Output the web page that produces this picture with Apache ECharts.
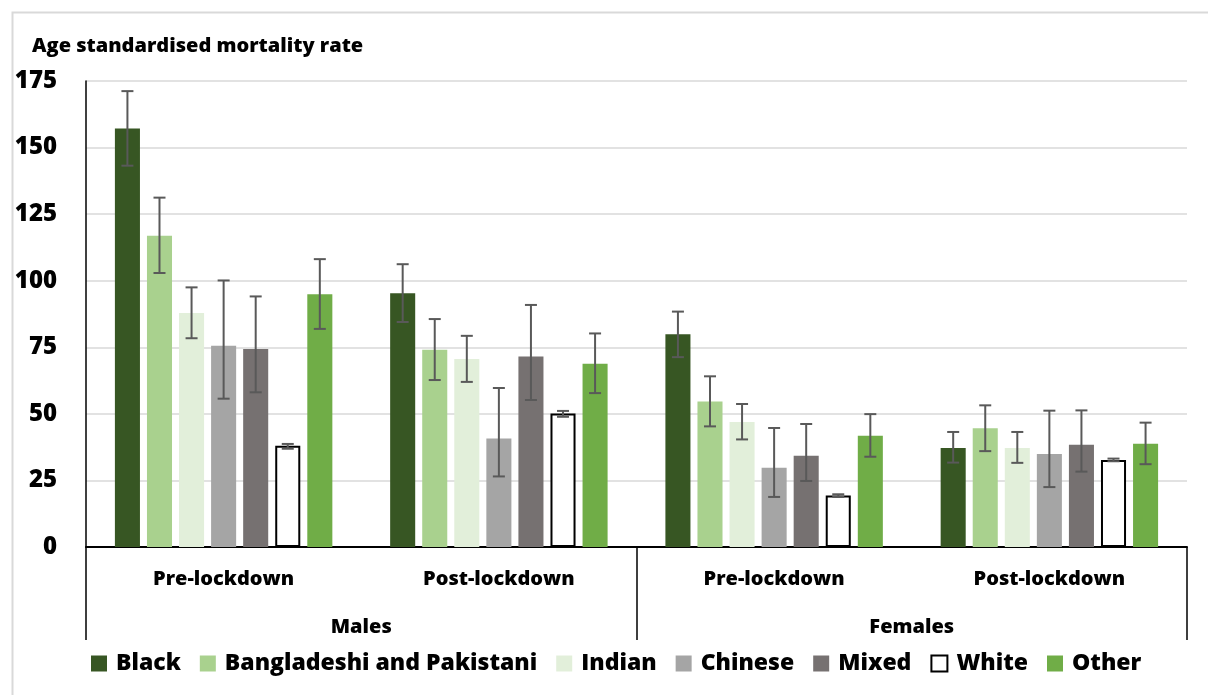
<!DOCTYPE html>
<html>
<head>
<meta charset="utf-8">
<script src="https://cdn.jsdelivr.net/npm/echarts@6/dist/echarts.min.js"></script>
<style>html,body{margin:0;padding:0;background:#fff}#c{width:1208px;height:695px}</style>
</head>
<body>
<div id="c"></div>
<script>
const periods = ['Pre-lockdown','Post-lockdown','Pre-lockdown','Post-lockdown'];
const sexes = ['Males','Females'];
const groups = ['Black','Bangladeshi and Pakistani','Indian','Chinese','Mixed','White','Other'];
const yTicks = [0,25,50,75,100,125,150,175];

const valBlack = [157.2, 95.3, 79.9, 37.2];
const valBP = [116.9, 74.1, 54.6, 44.6];
const valIndian = [87.9, 70.6, 46.9, 37.2];
const valChinese = [75.6, 40.7, 29.8, 34.9];
const valMixed = [74.4, 71.5, 34.3, 38.4];
const valWhite = [38.0, 50.1, 19.3, 32.7];
const valOther = [94.9, 68.8, 41.8, 38.8];

const lowBlack = [143.2, 84.5, 71.3, 31.7];
const highBlack = [171.2, 106.2, 88.4, 43.2];
const lowBP = [102.9, 62.7, 45.3, 36.0];
const highBP = [131.2, 85.6, 64.1, 53.2];
const lowIndian = [78.4, 62.0, 40.4, 31.6];
const highIndian = [97.5, 79.3, 53.7, 43.2];
const lowChinese = [55.7, 26.5, 18.8, 22.5];
const highChinese = [100.1, 59.7, 44.7, 51.2];
const lowMixed = [58.1, 55.2, 24.8, 28.3];
const highMixed = [94.1, 90.9, 46.2, 51.3];
const lowWhite = [36.9, 48.9, 18.8, 32.2];
const highWhite = [38.7, 51.1, 19.8, 33.2];
const lowOther = [81.9, 57.8, 33.9, 31.1];
const highOther = [108.1, 80.2, 49.9, 46.7];

const values = [valBlack, valBP, valIndian, valChinese, valMixed, valWhite, valOther];
const lows = [lowBlack, lowBP, lowIndian, lowChinese, lowMixed, lowWhite, lowOther];
const highs = [highBlack, highBP, highIndian, highChinese, highMixed, highWhite, highOther];
const colors = ['#375623','#a9d18e','#e2efda','#a5a5a5','#767171','#ffffff','#70ad47'];

const CAT_GAP = 0.21, BAR_GAP = 0.28;
const FONT = '"Open Sans", "Noto Sans", sans-serif';
const W = 800;

const chart = echarts.init(document.getElementById('c'));

const barSeries = groups.map((g, i) => ({
  name: g,
  type: 'bar',
  data: values[i],
  barCategoryGap: (CAT_GAP*100) + '%',
  barGap: (BAR_GAP*100) + '%',
  itemStyle: i === 5 ? {color: '#ffffff', borderColor: '#000000', borderWidth: 2} : {color: colors[i]},
  emphasis: {disabled: true},
  z: 2
}));

const errData = [];
groups.forEach((g, i) => {
  periods.forEach((p, j) => { errData.push([j, lows[i][j], highs[i][j], i]); });
});

const errSeries = {
  name: 'errors',
  type: 'custom',
  xAxisIndex: 0,
  yAxisIndex: 0,
  data: errData,
  encode: {x: 0, y: [1, 2]},
  z: 5,
  silent: true,
  renderItem: function (params, api) {
    const cat = api.value(0);
    const lo = api.coord([cat, api.value(1)]);
    const hi = api.coord([cat, api.value(2)]);
    const gi = api.value(3);
    const band = api.size([1, 0])[0];
    const n = groups.length;
    const bw = band * (1 - CAT_GAP) / (n + (n - 1) * BAR_GAP);
    const total = n * bw + (n - 1) * bw * BAR_GAP;
    const x = lo[0] - total / 2 + gi * bw * (1 + BAR_GAP) + bw / 2;
    const cap = 6;
    const st = {stroke: '#595959', lineWidth: 2};
    return {
      type: 'group',
      children: [
        {type: 'line', shape: {x1: x, y1: lo[1], x2: x, y2: hi[1]}, style: st},
        {type: 'line', shape: {x1: x - cap, y1: lo[1], x2: x + cap, y2: lo[1]}, style: st},
        {type: 'line', shape: {x1: x - cap, y1: hi[1], x2: x + cap, y2: hi[1]}, style: st}
      ]
    };
  }
};

chart.setOption({
  animation: false,
  backgroundColor: '#ffffff',
  textStyle: {fontFamily: FONT},
  graphic: [{
    type: 'rect', left: 10, top: 10, z: -10,
    shape: {width: 1240, height: 720},
    style: {fill: 'none', stroke: '#d9d9d9', lineWidth: 2}
  }],
  title: {
    text: 'Age standardised mortality rate',
    left: 27, top: 31,
    textStyle: {fontFamily: FONT, fontWeight: W, fontSize: 20, color: '#000'}
  },
  grid: {left: 86, right: 21, top: 81, bottom: 148, containLabel: false},
  legend: {
    data: groups,
    left: 86, top: 647,
    icon: 'rect',
    itemWidth: 16, itemHeight: 16, itemGap: 19,
    textStyle: {fontFamily: FONT, fontWeight: W, fontSize: 23, color: '#000', padding: [0, 0, 0, 4]}
  },
  xAxis: [{
    type: 'category',
    data: periods,
    position: 'bottom',
    axisLine: {show: true, lineStyle: {color: '#000', width: 2}},
    axisTick: {show: false},
    axisLabel: {margin: 22, fontFamily: FONT, fontWeight: W, fontSize: 20, color: '#000'},
    splitLine: {show: false}
  }, {
    type: 'category',
    data: sexes,
    position: 'bottom',
    offset: 0,
    axisLine: {show: false},
    axisTick: {show: true, length: 93, lineStyle: {color: '#000', width: 1.5}},
    axisLabel: {margin: 70, fontFamily: FONT, fontWeight: W, fontSize: 20, color: '#000'},
    splitLine: {show: false}
  }],
  yAxis: {
    type: 'value',
    min: yTicks[0], max: yTicks[yTicks.length - 1], interval: 25,
    axisLine: {show: true, lineStyle: {color: '#000', width: 1.5}},
    axisTick: {show: false},
    axisLabel: {margin: 29, fontFamily: FONT, fontWeight: W, fontSize: 24, color: '#000'},
    splitLine: {show: true, lineStyle: {color: '#d9d9d9', width: 1.5}}
  },
  series: barSeries.concat([errSeries])
});
</script>
</body>
</html>
